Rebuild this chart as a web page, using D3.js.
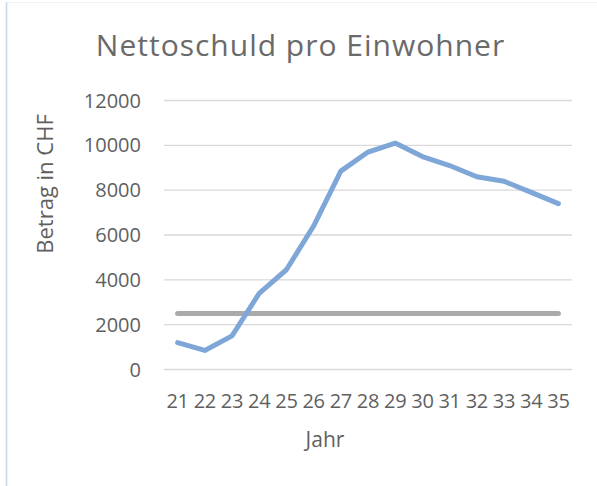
<!DOCTYPE html>
<html>
<head>
<meta charset="utf-8">
<script src="https://cdn.jsdelivr.net/npm/d3@7"></script>
<style>
  body { margin: 0; background: #fff; }
  svg { display: block; font-family: "Open Sans", sans-serif; }
</style>
</head>
<body>
<svg width="597" height="486"></svg>
<script>
// chart data
var years = ["21", "22", "23", "24", "25", "26", "27", "28", "29", "30", "31", "32", "33", "34", "35"];
var debtPerHead = [1200, 850, 1500, 3400, 4450, 6400, 8850, 9700, 10100, 9500, 9100, 8600, 8400, 7900, 7400];
var limitLine = [2500, 2500, 2500, 2500, 2500, 2500, 2500, 2500, 2500, 2500, 2500, 2500, 2500, 2500, 2500];
var yTicks = [0, 2000, 4000, 6000, 8000, 10000, 12000];

var svg = d3.select("svg");

// faint frame of the chart object
svg.append("line")
    .attr("x1", 6.5).attr("x2", 6.5).attr("y1", 2).attr("y2", 486)
    .attr("stroke", "#c6d7ec").attr("stroke-width", 1.5);
svg.append("line")
    .attr("x1", 6.5).attr("x2", 597).attr("y1", 2.5).attr("y2", 2.5)
    .attr("stroke", "#eef3f9").attr("stroke-width", 1);

var x = d3.scaleBand().domain(years).range([164, 572]);
var y = d3.scaleLinear().domain([0, 12000]).range([369.5, 100.5]);

/* ----------- grid + y labels ----------- */
var grid = svg.append("g");
grid.selectAll("line")
    .data(yTicks)
    .enter()
    .append("line")
    .attr("x1", 164).attr("x2", 572)
    .attr("y1", d => y(d)).attr("y2", d => y(d))
    .attr("stroke", "#d9d9d9")
    .attr("stroke-width", 1.3);

grid.selectAll("text")
    .data(yTicks)
    .enter()
    .append("text")
    .attr("x", 141)
    .attr("y", d => y(d) + 7)
    .attr("text-anchor", "end")
    .attr("font-size", 20)
    .attr("fill", "#5f5f5f")
    .text(d => d);

/* ----------- x labels ----------- */
svg.append("g").selectAll("text")
    .data(years)
    .enter()
    .append("text")
    .attr("x", d => x(d) + x.bandwidth() / 2)
    .attr("y", 408)
    .attr("text-anchor", "middle")
    .attr("font-size", 20)
    .attr("letter-spacing", -0.3)
    .attr("fill", "#5f5f5f")
    .text(d => d);

/* ----------- lines ----------- */
var line = d3.line()
    .x((d, i) => x(years[i]) + x.bandwidth() / 2)
    .y(d => y(d));

svg.append("path")
    .datum(limitLine)
    .attr("fill", "none")
    .attr("stroke", "#aaaaac")
    .attr("stroke-width", 5)
    .attr("stroke-linecap", "round")
    .attr("d", line);

svg.append("path")
    .datum(debtPerHead)
    .attr("fill", "none")
    .attr("stroke", "#7ea7d8")
    .attr("stroke-width", 5)
    .attr("stroke-linecap", "round")
    .attr("stroke-linejoin", "round")
    .attr("d", line);

/* ----------- titles ----------- */
svg.append("text")
    .attr("x", 300.5)
    .attr("y", 56)
    .attr("text-anchor", "middle")
    .attr("font-size", 30)
    .attr("letter-spacing", 1)
    .attr("fill", "#6a6a6a")
    .text("Nettoschuld pro Einwohner");

svg.append("text")
    .attr("transform", "translate(53,184) rotate(-90)")
    .attr("text-anchor", "middle")
    .attr("font-size", 22)
    .attr("fill", "#5f5f5f")
    .text("Betrag in CHF");

svg.append("text")
    .attr("x", 325)
    .attr("y", 447)
    .attr("text-anchor", "middle")
    .attr("font-size", 21)
    .attr("fill", "#5f5f5f")
    .text("Jahr");
</script>
</body>
</html>
